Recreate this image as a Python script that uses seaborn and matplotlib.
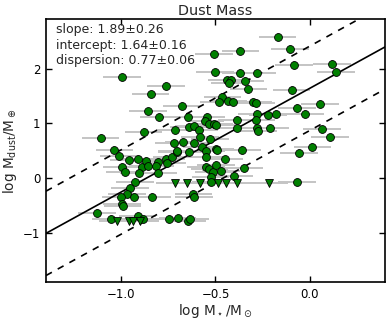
import matplotlib
matplotlib.use("Agg")
import matplotlib.pyplot as plt
import seaborn as sns
import numpy as np
import pandas as pd

# detections (log M*/Msun, log Mdust/Mearth)
det_x = [-0.996, -0.763, -0.845, -0.860, -0.799, -0.678, -0.882, -0.714, -1.110,
         -0.170, -0.104, -0.507, -0.368, -0.503, -0.368, -0.281, -0.084, -0.440,
         -0.419, -0.426, -0.343, -0.325, -0.463, -0.481, -0.433, -0.405, -0.299,
         -0.285, -0.096, -0.645, -0.547, -0.555, -0.278, -0.221, -0.181, -0.385,
         -0.283, -0.640, -0.616, -0.585, -0.532, -0.507, -0.495, -0.386, -0.278,
         -0.272, -0.208, -0.583, -0.530, 0.120, 0.141, -0.066, -0.023, 0.056,
         0.067, 0.107, -1.037, -1.014, -0.995, -0.981, -0.959, -0.911, -0.889,
         -0.905, -0.868, -0.861, -0.804, -0.818, -0.806, -0.762, -0.755, -0.731,
         -0.719, -0.707, -0.926, -0.955, -0.971, -1.003, -0.931, -0.996, -0.993,
         -0.837, -1.129, -0.914, -1.056, -0.886, -0.748, -0.701, -0.648, -0.634,
         -0.670, -0.703, -0.640, -0.612, -0.573, -0.550, -0.548, -0.499, -0.490,
         -0.360, -0.452, -0.550, -0.532, -0.511, -0.498, -0.469, -0.347, -0.526,
         -0.526, -0.401, -0.617, -0.613, -0.066, -0.058, 0.015]
det_y = [1.839, 1.688, 1.529, 1.219, 1.109, 1.314, 0.839, 0.881, 0.739,
         2.584, 2.359, 2.277, 2.328, 1.931, 1.918, 1.916, 2.064, 1.785,
         1.801, 1.739, 1.770, 1.624, 1.489, 1.396, 1.416, 1.392, 1.392,
         1.374, 1.611, 1.119, 1.119, 1.040, 1.179, 1.155, 1.168, 1.060,
         1.069, 0.936, 0.945, 0.881, 0.985, 0.982, 0.969, 0.922, 0.912,
         0.863, 0.918, 0.759, 0.712, 2.086, 1.940, 1.277, 1.177, 1.356,
         0.891, 0.745, 0.513, 0.412, 0.206, 0.109, 0.325, 0.352, 0.212,
         0.097, 0.316, 0.230, 0.303, 0.230, 0.102, 0.352, 0.285, 0.394,
         0.644, 0.485, -0.071, -0.172, -0.281, -0.350, -0.345, -0.469, -0.500,
         -0.338, -0.628, -0.682, -0.748, -0.752, -0.743, -0.730, -0.779, -0.748,
         0.657, 0.498, 0.474, 0.639, 0.562, 0.493, 0.389, 0.531, 0.516,
         0.520, 0.343, 0.203, 0.161, 0.111, 0.239, 0.139, 0.188, 0.015,
         -0.068, 0.046, -0.281, -0.350, -0.077, 0.462, 0.566]

# upper limits
lim_x = [-1.021, -0.958, -0.936, -0.899, -0.716, -0.650, -0.581, -0.486, -0.444,
         -0.385, -0.214]
lim_y = [-0.788, -0.788, -0.788, -0.788, -0.095, -0.095, -0.095, -0.095, -0.095,
         -0.095, -0.095]

x_err = 0.10
y_err = 0.07

slope = 1.89
slope_err = 0.26
intercept = 1.64
intercept_err = 0.16
dispersion = 0.77
dispersion_err = 0.06

x_ticks = [-1.0, -0.5, 0.0]
y_ticks = [-1, 0, 1, 2]
x_range = (-1.4, 0.4)
y_range = (-1.9, 2.9)

sns.set_style("ticks")
plt.rcParams["font.family"] = ["DejaVu Sans"]
plt.rcParams["mathtext.default"] = "regular"

fig = plt.figure(figsize=(3.9, 3.23), dpi=100)
ax = fig.add_axes([0.118, 0.126, 0.869, 0.814])

det = pd.DataFrame({"x": det_x, "y": det_y})
lim = pd.DataFrame({"x": lim_x, "y": lim_y})

ax.errorbar(det["x"], det["y"], xerr=x_err, yerr=y_err, fmt="none",
            ecolor="#c4c4c4", elinewidth=1.4, zorder=1)
ax.errorbar(lim["x"], lim["y"], xerr=x_err, fmt="none",
            ecolor="#c4c4c4", elinewidth=1.4, zorder=1)

# fit lines
xx = np.array(x_range)
fit = pd.DataFrame({"x": xx, "y": slope * xx + intercept,
                    "up": slope * xx + intercept + dispersion,
                    "lo": slope * xx + intercept - dispersion})
sns.lineplot(data=fit, x="x", y="y", color="black", lw=1.2, ax=ax, zorder=2)
sns.lineplot(data=fit, x="x", y="up", color="black", lw=1.2, ax=ax, zorder=2,
             linestyle=(0, (4, 4)))
sns.lineplot(data=fit, x="x", y="lo", color="black", lw=1.2, ax=ax, zorder=2,
             linestyle=(0, (4, 4)))

sns.scatterplot(data=det, x="x", y="y", color="#008000", edgecolor="black",
                linewidth=0.6, s=32, marker="o", ax=ax, zorder=3)
sns.scatterplot(data=lim, x="x", y="y", color="#008000", edgecolor="black",
                linewidth=0.6, s=32, marker="v", ax=ax, zorder=3)

ax.set_xlim(*x_range)
ax.set_ylim(*y_range)
ax.set_xticks(x_ticks)
ax.set_yticks(y_ticks)
ax.set_xticklabels(["\u22121.0", "\u22120.5", "0.0"])
ax.set_yticklabels(["\u22121", "0", "1", "2"])
ax.tick_params(direction="in", length=4, width=1, top=True, right=True,
               labelsize=8.5, colors="black", pad=4)
for sp in ax.spines.values():
    sp.set_visible(True)
    sp.set_color("black")
    sp.set_linewidth(1.2)

ax.set_xlabel(r"log M$_\star$/M$_\odot$", fontsize=9.8, labelpad=1)
ax.set_ylabel(r"log M$_{dust}$/M$_\oplus$", fontsize=9.8, labelpad=3)
ax.set_title("Dust Mass", fontsize=10.4, pad=3)

txt = (f"slope: {slope:.2f}\u00b1{slope_err:.2f}\n"
       f"intercept: {intercept:.2f}\u00b1{intercept_err:.2f}\n"
       f"dispersion: {dispersion:.2f}\u00b1{dispersion_err:.2f}")
ax.text(0.03, 0.985, txt, transform=ax.transAxes, va="top", ha="left",
        fontsize=9, linespacing=1.25)

fig.savefig("out.png", dpi=100)
